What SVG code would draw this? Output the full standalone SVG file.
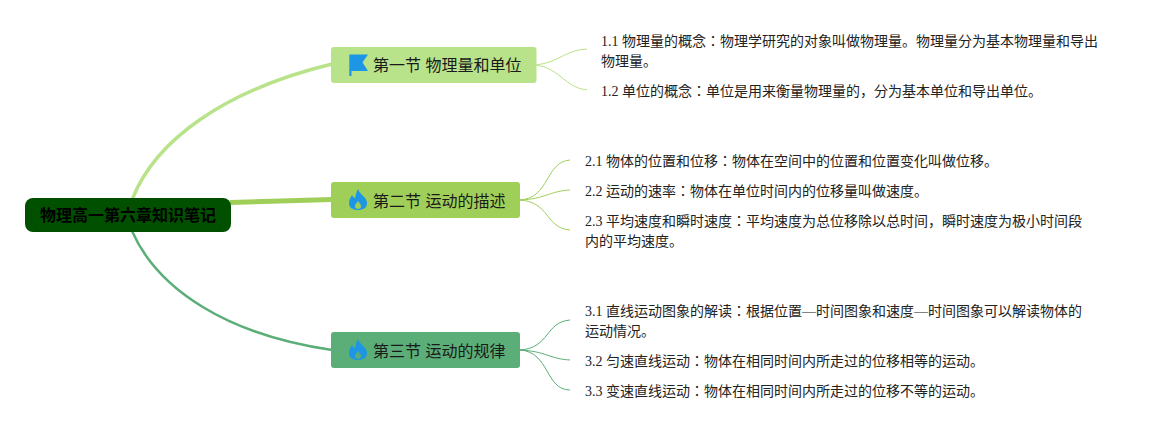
<svg xmlns="http://www.w3.org/2000/svg" width="1161" height="430" viewBox="0 0 1161 430">
<style>
text{font-family:"Liberation Serif","Noto Sans CJK JP",serif;fill:#222}
.leaf{font-size:14px}
.sec{font-size:16px;font-family:"Liberation Sans","Noto Sans CJK JP",sans-serif;fill:#1a1a1a}
.root{font-size:16px;font-weight:bold;font-family:"Liberation Sans","Noto Sans CJK JP",sans-serif;fill:#000}
.c{fill:none}
.a{stroke:#b9e38a}.b{stroke:#a0cf59}.d{stroke:#5bae77}
</style>
<defs>
<path id="flame" fill="#1e96e6" d="M0-11C1-6 9-3 9 3C9 8 5 10 0 10C-5 10-9 8-9 3C-9-1-7-3-6-5C-5-3-4-2-3-2C-2-5-2-8 0-11ZM0 1C-1 3-3 4-3 6C-3 8-2 9 0 9C2 9 3 8 3 6C3 4 1 3 0 1Z"/>
</defs>
<g id="connectors">
<path class="c a" stroke-width="3.500" d="M132 200C155 140 225 90 332 64"/>
<path class="c b" stroke-width="5" d="M230 202.500L332 199.500"/>
<path class="c d" stroke-width="2.500" d="M132 231C158 290 228 335 332 350"/>
<path class="c a" stroke-width="1" d="M536 65C560 62 565 50 587 49M536 65C560 68 565 88 587 90"/>
<path class="c b" stroke-width="1" d="M520 200C550 198 545 162 570 160M520 200C545 199 550 191 570 190M520 200C550 202 545 228 570 230"/>
<path class="c d" stroke-width="1" d="M520 350C550 348 545 322 570 320M520 350C545 351 550 359 570 360M520 350C550 352 545 390 570 390"/>
</g>
<g id="root"><rect x="25" y="198" width="206" height="34" rx="8" fill="#005000"/><text class="root" x="128" y="221" text-anchor="middle">物理高一第六章知识笔记</text></g>
<g id="sec1"><rect x="331" y="47" width="205.500" height="36" rx="3" fill="#b9e38a"/>
<path fill="#1e96e6" d="M349.300 54.500H368L362.500 62.500L368 71H351.500V76H349.300Z"/>
<text class="sec" x="373" y="71">第一节 物理量和单位</text></g>
<g id="sec2"><rect x="331" y="182" width="189" height="36" rx="3" fill="#a0cf59"/>
<use href="#flame" x="358" y="200"/>
<text class="sec" x="373" y="207">第二节 运动的描述</text></g>
<g id="sec3"><rect x="331" y="332" width="189" height="36" rx="3" fill="#5bae77"/>
<use href="#flame" x="358" y="350"/>
<text class="sec" x="373" y="357">第三节 运动的规律</text></g>
<g id="leaf11"><text class="leaf" x="601" y="46">1.1 物理量的概念：物理学研究的对象叫做物理量。物理量分为基本物理量和导出</text><text class="leaf" x="601" y="66">物理量。</text></g>
<g id="leaf12"><text class="leaf" x="601" y="96">1.2 单位的概念：单位是用来衡量物理量的，分为基本单位和导出单位。</text></g>
<g id="leaf21"><text class="leaf" x="585" y="166">2.1 物体的位置和位移：物体在空间中的位置和位置变化叫做位移。</text></g>
<g id="leaf22"><text class="leaf" x="585" y="196">2.2 运动的速率：物体在单位时间内的位移量叫做速度。</text></g>
<g id="leaf23"><text class="leaf" x="585" y="226">2.3 平均速度和瞬时速度：平均速度为总位移除以总时间，瞬时速度为极小时间段</text><text class="leaf" x="585" y="246">内的平均速度。</text></g>
<g id="leaf31"><text class="leaf" x="585" y="316">3.1 直线运动图象的解读：根据位置—时间图象和速度—时间图象可以解读物体的</text><text class="leaf" x="585" y="336">运动情况。</text></g>
<g id="leaf32"><text class="leaf" x="585" y="366">3.2 匀速直线运动：物体在相同时间内所走过的位移相等的运动。</text></g>
<g id="leaf33"><text class="leaf" x="585" y="396">3.3 变速直线运动：物体在相同时间内所走过的位移不等的运动。</text></g>
</svg>
